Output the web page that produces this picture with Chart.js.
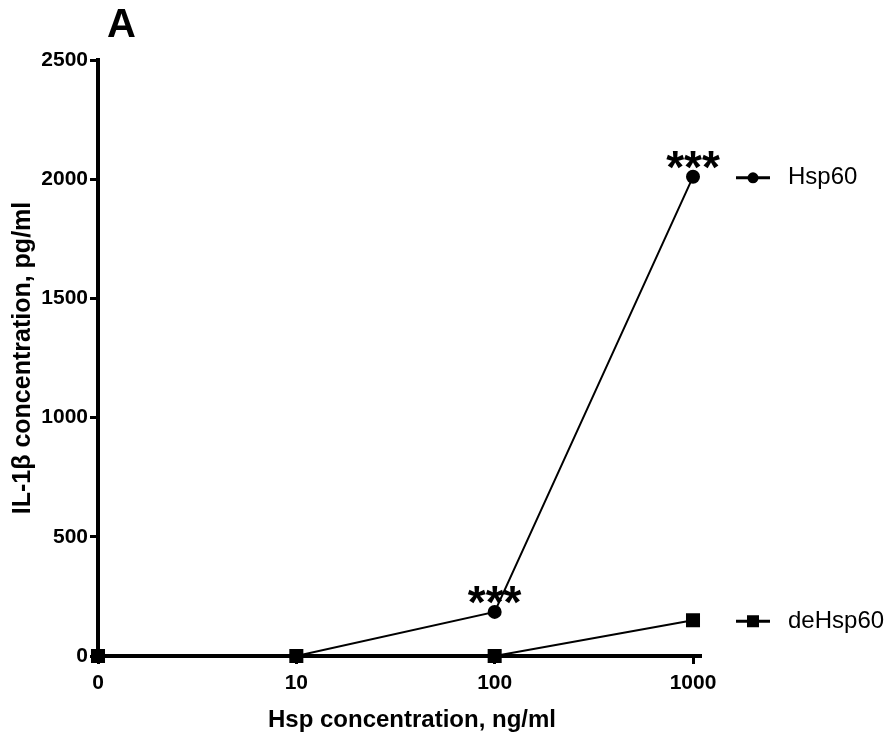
<!DOCTYPE html>
<html>
<head>
<meta charset="UTF-8">
<title>IL-1b response</title>
<script src="https://cdn.jsdelivr.net/npm/chart.js@4.4.0/dist/chart.umd.min.js"></script>
<style>
  html, body { margin: 0; padding: 0; background: #fff; }
  #wrap { position: relative; width: 891px; height: 733px; }
</style>
</head>
<body>
<div id="wrap"><canvas id="myChart"></canvas></div>

<script>
  // dose categories (ng/ml) and IL-1b readouts (pg/ml)
  const doses = ['0', '10', '100', '1000'];
  const hsp60 = [0, 0, 185, 2010];
  const deHsp60 = [0, 0, 0, 150];
  const hsp60Stars = ['', '', '***', '***'];
  const yTicks = [0, 500, 1000, 1500, 2000, 2500];

  const FONT = 'Arial, "Liberation Sans", sans-serif';

  // stars, end-of-line legend, panel letter and x title
  const annotations = {
    id: 'annotations',
    afterDatasetsDraw(chart) {
      const ctx = chart.ctx;
      const x = chart.scales.x, y = chart.scales.y;
      ctx.save();
      ctx.fillStyle = '#000';
      ctx.strokeStyle = '#000';

      // x axis runs a bit past the last tick
      ctx.lineWidth = 4;
      ctx.beginPath();
      ctx.moveTo(x.right - 2, y.bottom);
      ctx.lineTo(x.right + 9, y.bottom);
      ctx.stroke();

      // significance stars
      ctx.font = 'bold 46px ' + FONT;
      ctx.textAlign = 'center';
      ctx.textBaseline = 'alphabetic';
      hsp60Stars.forEach(function(s, i) {
        if (!s) return;
        const px = x.getPixelForValue(i);
        const py = y.getPixelForValue(hsp60[i]);
        ctx.fillText(s, px, py + 6);
      });

      // legend at the end of each line
      chart.data.datasets.forEach(function(ds) {
        const last = ds.data[ds.data.length - 1];
        const py = y.getPixelForValue(last) + 1;
        ctx.lineWidth = 3;
        ctx.beginPath();
        ctx.moveTo(736, py);
        ctx.lineTo(770, py);
        ctx.stroke();
        ctx.beginPath();
        if (ds.pointStyle === 'circle') {
          ctx.arc(753, py, 5.5, 0, Math.PI * 2);
        } else {
          ctx.rect(747, py - 6, 12, 12);
        }
        ctx.fill();
        ctx.font = '24px ' + FONT;
        ctx.textAlign = 'left';
        ctx.textBaseline = 'middle';
        ctx.fillText(ds.label, 788, py);
      });

      // panel letter
      ctx.font = 'bold 40px ' + FONT;
      ctx.textAlign = 'left';
      ctx.textBaseline = 'alphabetic';
      ctx.fillText('A', 107, 37);

      // x axis title
      ctx.font = 'bold 24px ' + FONT;
      ctx.textAlign = 'center';
      ctx.fillText('Hsp concentration, ng/ml', 412, 727);
      ctx.restore();
    }
  };

  const tickGrid = {
    display: true,
    drawOnChartArea: false,
    drawTicks: true,
    tickLength: 8,
    tickWidth: 3,
    tickColor: '#000'
  };

  new Chart('myChart', {
    type: 'line',
    data: {
      labels: doses,
      datasets: [{
        label: 'deHsp60',
        data: deHsp60,
        borderColor: '#000',
        backgroundColor: '#000',
        borderWidth: 2,
        pointStyle: 'rect',
        pointRadius: 8.5,
        pointHoverRadius: 8.5,
        fill: false,
        tension: 0
      }, {
        label: 'Hsp60',
        data: hsp60,
        borderColor: '#000',
        backgroundColor: '#000',
        borderWidth: 2,
        pointStyle: 'circle',
        pointRadius: 6,
        pointHoverRadius: 6,
        fill: false,
        tension: 0
      }]
    },
    options: {
      responsive: true,
      maintainAspectRatio: false,
      animation: false,
      clip: false,
      layout: { padding: { top: 60, right: 198, left: 0, bottom: 0 } },
      plugins: {
        legend: { display: false },
        tooltip: { enabled: false }
      },
      scales: {
        x: {
          offset: false,
          grid: tickGrid,
          border: { display: true, color: '#000', width: 4 },
          ticks: { color: '#000', font: { family: FONT, size: 21, weight: 'bold' }, padding: 7, maxRotation: 0 },
          afterFit(scale) { scale.height = 77; }
        },
        y: {
          min: 0,
          max: 2500,
          afterBuildTicks(scale) { scale.ticks = yTicks.map(function(v) { return { value: v }; }); },
          grid: tickGrid,
          border: { display: true, color: '#000', width: 4 },
          ticks: {
            color: '#000',
            font: { family: FONT, size: 21, weight: 'bold' },
            padding: 2,
            callback: function(v) { return String(v); }
          },
          title: { display: true, text: 'IL-1\u03b2 concentration, pg/ml', color: '#000', font: { family: FONT, size: 25, weight: 'bold' }, padding: { top: 8, bottom: 0 } },
          afterFit(scale) { scale.width = 98; }
        }
      }
    },
    plugins: [annotations]
  });
</script>
</body>
</html>
